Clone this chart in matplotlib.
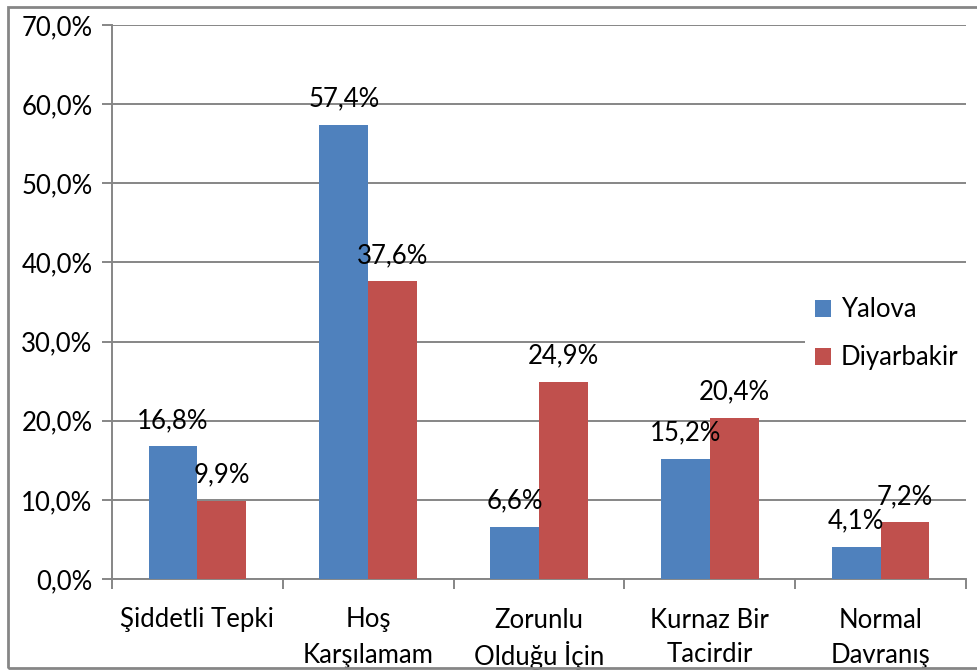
import numpy as np
import matplotlib.pyplot as plt
import matplotlib.transforms as mtransforms
from matplotlib.patches import Rectangle

categories = ['Şiddetli Tepki', 'Hoş\nKarşılamam', 'Zorunlu\nOlduğu İçin',
              'Kurnaz Bir\nTacirdir', 'Normal\nDavranış']
yalova = [16.8, 57.4, 6.6, 15.2, 4.1]
diyarbakir = [9.9, 37.6, 24.9, 20.4, 7.2]
series_names = ['Yalova', 'Diyarbakir']
colors = ['#4F81BD', '#C0504D']

plt.rcParams['font.family'] = ['Lato', 'DejaVu Sans']
grid_col = '#868686'
fs = 18.5

fig = plt.figure(figsize=(9.77, 6.72), dpi=100)
ax = fig.add_axes([0.1146, 0.1384, 0.8741, 0.8244])

x = np.arange(len(categories)) + 0.5
w = 1 / 3.5
b1 = ax.bar(x - w / 2, yalova, w, color=colors[0], label=series_names[0], zorder=3)
b2 = ax.bar(x + w / 2, diyarbakir, w, color=colors[1], label=series_names[1], zorder=3)

# value labels above bars
for bars, vals in [(b1, yalova), (b2, diyarbakir)]:
    for r, v in zip(bars, vals):
        ax.annotate(('%.1f%%' % v).replace('.', ','),
                    (r.get_x() + r.get_width() / 2, v),
                    xytext=(0, 18.5), textcoords='offset points',
                    ha='center', va='center', fontsize=fs, zorder=5)

ax.set_xlim(0, len(categories))
ax.set_ylim(0, 70)
ax.set_yticks(np.arange(0, 71, 10))
ax.set_yticklabels([('%.1f%%' % t).replace('.', ',') for t in np.arange(0, 71, 10)])
ax.yaxis.grid(True, color=grid_col, linewidth=1.4, zorder=0)
ax.set_axisbelow(True)

ax.set_xticks(np.arange(0, len(categories) + 1))
ax.set_xticklabels([])
ax.tick_params(axis='x', length=7, width=1.4, color=grid_col, direction='out')
ax.tick_params(axis='y', length=7, width=1.4, color=grid_col, pad=7, labelsize=fs)

# category labels, one text per line so line spacing stays even
trans = mtransforms.blended_transform_factory(ax.transData, fig.transFigure)
for xc, lab in zip(x, categories):
    for i, line in enumerate(lab.split('\n')):
        ax.text(xc, 1 - (620 + 35 * i) / 672, line, transform=trans,
                ha='center', va='center', fontsize=fs, clip_on=False)

for s in ['top', 'right']:
    ax.spines[s].set_visible(False)
for s in ['left', 'bottom']:
    ax.spines[s].set_color(grid_col)
    ax.spines[s].set_linewidth(1.4)

leg = ax.legend(loc='upper left', bbox_to_anchor=(0.811, 0.527), frameon=True,
                fontsize=fs, handlelength=0.62, handleheight=0.62,
                handletextpad=0.4, labelspacing=0.9, borderpad=0.4,
                borderaxespad=0)
leg.get_frame().set_facecolor('white')
leg.get_frame().set_edgecolor('none')
leg.get_frame().set_alpha(1)
leg.set_zorder(6)

# outer chart border (right side runs off the image)
fig.patches.append(Rectangle((8 / 977, 1 - 668 / 672), 1.0, 661 / 672,
                             transform=fig.transFigure, fill=False,
                             edgecolor=grid_col, linewidth=2))

fig.savefig('out.png', dpi=100)
